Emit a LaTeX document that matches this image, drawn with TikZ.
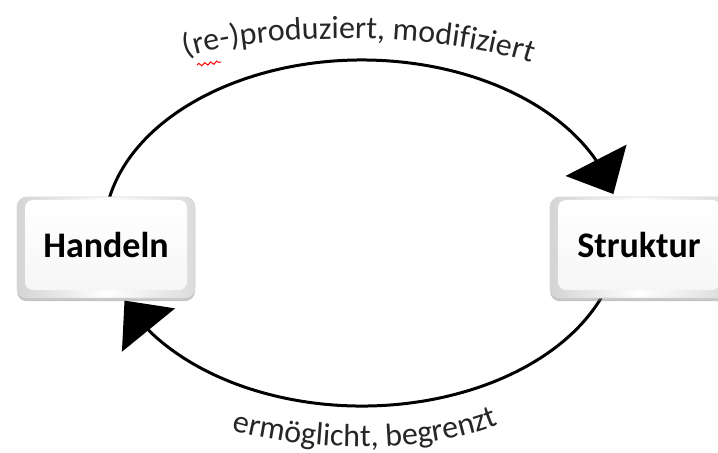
\documentclass[tikz,border=0pt]{standalone}
\usepackage{fontspec}
\newfontfamily\carlito{Carlito}
\usetikzlibrary{arrows.meta,bending,shadows,decorations.text,decorations.pathmorphing}
\tikzset{
  arcline/.style={line width=1.5pt, black, -{Triangle[length=19pt,width=34pt]}},
  boxbase/.style={rounded corners=5pt, minimum width=89pt, minimum height=50.5pt, inner sep=0pt,
    draw=gray!30, line width=0.4pt, left color=gray!34, right color=gray!28, middle color=white,
    drop shadow={shadow xshift=0pt, shadow yshift=-1.6pt, opacity=0.45, fill=gray}},
  boxface/.style={rounded corners=4pt, minimum width=81pt, minimum height=45pt, inner sep=0pt,
    top color=white, bottom color=gray!7, draw=none,
    font=\carlito\bfseries\fontsize{18}{21}\selectfont, text=black},
}
\begin{document}
\begin{tikzpicture}[x=0.5pt,y=0.5pt]
\useasboundingbox (0,0) rectangle (718,452);
\clip (0,0) rectangle (718,452);
\fill[white] (0,0) rectangle (718,452);
\coordinate (c) at (362,219);
% arcs
\draw[arcline] ([shift={(168:129pt and 86.5pt)}]c) arc[start angle=168, end angle=13, x radius=129pt, y radius=86.5pt];
\draw[arcline] ([shift={(-22:129pt and 86.5pt)}]c) arc[start angle=-22, end angle=-157, x radius=129pt, y radius=86.5pt];
% boxes
\node[boxbase] (handelnbox) at (106,204.5) {};
\node[boxface] (handeln) at ([yshift=1.25pt]handelnbox.center) {Handeln};
\node[boxbase] (strukturbox) at (639,204.5) {};
\node[boxface] (struktur) at ([yshift=1.25pt]strukturbox.center) {Struktur};
% curved labels
\path[decorate, decoration={text along path, text align=center,
  text format delimiters={|}{|},
  text={|\carlito\fontsize{16}{16}\selectfont\color{black!85}|(re-)produziert, modifiziert}}]
  (172,390) .. controls (250,422) and (450,422) .. (545,384);
\path[decorate, decoration={text along path, text align=center,
  text format delimiters={|}{|},
  text={|\carlito\fontsize{16}{16}\selectfont\color{black!85}|ermöglicht, begrenzt}}]
  (225,24) .. controls (300,0) and (430,-4) .. (505,30);
% spell-check squiggle
\draw[red, line width=0.5pt, decorate, decoration={snake, amplitude=0.7pt, segment length=3pt}] (197,387) -- (221,390);
\end{tikzpicture}
\end{document}
